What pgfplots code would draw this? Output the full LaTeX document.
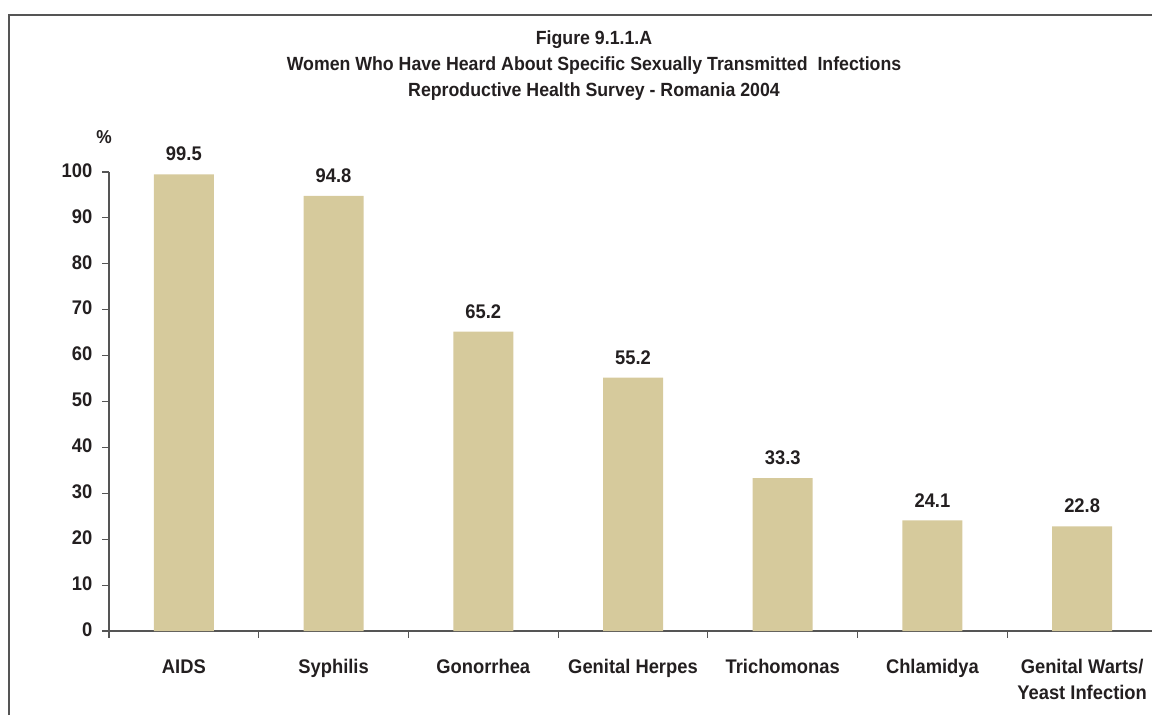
\documentclass[border=0pt]{standalone}
\usepackage{fontspec}
\setmainfont{Liberation Sans}[FakeStretch=0.93]
\usepackage{pgfplots}
\pgfplotsset{compat=1.18}
\definecolor{barcol}{HTML}{D6CA9C}
\definecolor{txt}{HTML}{231F20}
\definecolor{axc}{HTML}{555555}
\begin{document}
\begin{tikzpicture}
\path[use as bounding box] (0,0) rectangle (864pt,536.25pt);
\draw[line width=1.2pt, color=axc] (6.75pt,0) -- (6.75pt,525pt) -- (870pt,525pt);
\node[align=center, font=\bfseries\fontsize{14.3}{19.5}\selectfont, text=txt] at (445.5pt,486.75pt)
 {Figure 9.1.1.A\\Women Who Have Heard About Specific Sexually Transmitted\ \ Infections\\Reproductive Health Survey - Romania 2004};
\node[font=\bfseries\fontsize{14}{15}\selectfont, text=txt] at (78pt,433.5pt) {\%};
\begin{axis}[
  at={(81.75pt,63pt)}, anchor=south west,
  scale only axis, width=786pt, height=344.25pt,
  xmin=-0.5, xmax=6.5, ymin=0, ymax=100,
  axis x line=bottom, axis y line=left,
  axis line style={color=axc, line width=0.8pt, -},
  ybar, bar width=45pt,
  ytick={0,10,...,100},
  xtick={0,...,6},
  xticklabels={AIDS,Syphilis,Gonorrhea,Genital Herpes,Trichomonas,Chlamidya,{Genital Warts/\\Yeast Infection}},
  minor xtick={-0.5,0.5,...,6.5},
  major x tick style={draw=none},
  minor x tick style={color=axc, line width=0.8pt},
  y tick style={color=axc, line width=0.8pt},
  tick align=outside, major tick length=5pt, minor tick length=5pt,
  /pgf/number format/assume math mode=true,
  tick label style={font=\bfseries\fontsize{14.8}{19.5}\selectfont, text=txt},
  xticklabel style={align=center, anchor=north, yshift=-10pt},
  typeset ticklabels with strut,
  yticklabel style={xshift=-4pt},
  nodes near coords,
  nodes near coords style={font=\bfseries\fontsize{14.8}{17}\selectfont, text=txt, anchor=south, yshift=6.5pt,
    /pgf/number format/.cd, fixed, fixed zerofill, precision=1, assume math mode=true},
  clip=false,
]
\addplot[fill=barcol, draw=none] coordinates {(0,99.5) (1,94.8) (2,65.2) (3,55.2) (4,33.3) (5,24.1) (6,22.8)};
\end{axis}
\end{tikzpicture}
\end{document}
